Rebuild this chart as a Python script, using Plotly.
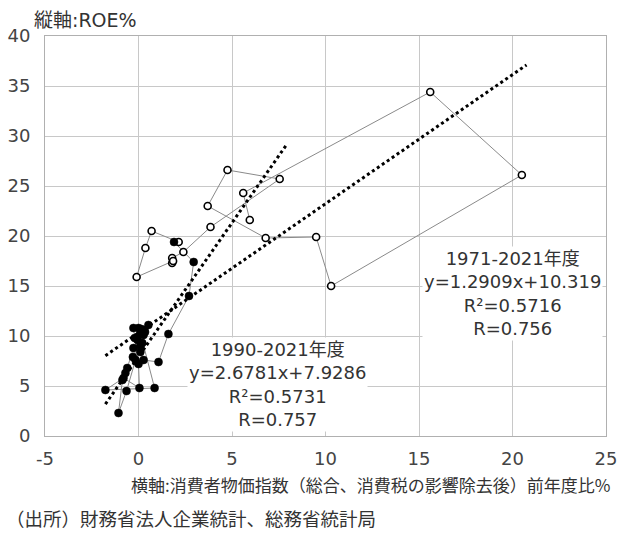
import plotly.graph_objects as go

# ---- data ----
years_a = list(range(1971, 1990))
cpi_a = [5.95, 5.6, 15.6, 20.5, 10.3, 9.5, 6.8, 3.7, 4.76, 7.55, 3.85, 2.4, 1.8, 1.8, 1.85, -0.1, 0.37, 0.7, 2.15]
roe_a = [21.6, 24.3, 34.4, 26.1, 15.0, 19.9, 19.8, 23.0, 26.6, 25.7, 20.9, 18.4, 17.8, 17.3, 17.5, 15.9, 18.8, 20.5, 19.4]

years_b = list(range(1990, 2022))
cpi_b = [1.9, 2.95, 2.7, 1.6, 1.07, 0.27, 0.1, 0.53, 0.2, -0.16,
         -0.64, -1.07, -0.86, -0.7, -0.6, -0.27, -0.05, 0.1, 0.86, -1.77,
         -0.8, 0.05, 0.0, -0.27, 0.0, 0.27, -0.2, 0.3, 0.35, 0.1, -0.3, 0.15]
roe_b = [19.4, 17.4, 14.0, 10.2, 7.4, 7.6, 8.4, 11.1, 9.3, 7.6,
         4.5, 2.3, 5.6, 6.3, 6.8, 8.8, 9.6, 10.3, 4.8, 4.6,
         5.8, 4.8, 7.2, 10.8, 10.8, 10.1, 9.8, 10.6, 10.4, 9.0, 7.9, 10.7]

trend_labels = ["1971-2021年度", "1990-2021年度"]
trend_slope = [1.2909, 2.6781]
trend_intercept = [10.319, 7.9286]
trend_r2 = [0.5716, 0.5731]
trend_r = [0.756, 0.757]
trend_x_range = [[-1.77, 20.75], [-1.77, 7.95]]
label_pos = [[20.0, 14.25], [7.45, 5.15]]

x_ticks = [-5, 0, 5, 10, 15, 20, 25]
y_ticks = [0, 5, 10, 15, 20, 25, 30, 35, 40]

LATIN = "DejaVu Sans, Noto Sans CJK JP, sans-serif"
CJK = "Noto Sans CJK JP, sans-serif"
TXT = "#333333"

fig = go.Figure()

# chronological connecting line through all years
fig.add_trace(go.Scatter(
    x=cpi_a + cpi_b, y=roe_a + roe_b, mode="lines",
    line=dict(color="#8a8a8a", width=1), hoverinfo="skip", showlegend=False))

# trend lines
for i in range(len(trend_slope)):
    xs = trend_x_range[i]
    ys = [trend_slope[i] * v + trend_intercept[i] for v in xs]
    fig.add_trace(go.Scatter(
        x=xs, y=ys, mode="lines",
        line=dict(color="black", width=3, dash="3px,3px"),
        showlegend=False, hoverinfo="skip"))

fig.add_trace(go.Scatter(
    x=cpi_a, y=roe_a, mode="markers", text=years_a,
    marker=dict(symbol="circle", size=7, color="white",
                line=dict(color="black", width=1.6)),
    showlegend=False))
fig.add_trace(go.Scatter(
    x=cpi_b, y=roe_b, mode="markers", text=years_b,
    marker=dict(symbol="circle", size=8, color="black",
                line=dict(color="black", width=0.5)),
    showlegend=False))

for i in range(len(trend_slope)):
    txt = (f"{trend_labels[i]}<br>y={trend_slope[i]}x+{trend_intercept[i]}"
           f"<br>R²={trend_r2[i]}<br>R={trend_r[i]}")
    fig.add_annotation(x=label_pos[i][0], y=label_pos[i][1], xref="x", yref="y",
                       text=txt, showarrow=False, align="center",
                       font=dict(family=LATIN, size=18, color=TXT),
                       bgcolor="white", borderpad=1)

fig.add_annotation(x=-0.023, y=1.04, xref="paper", yref="paper", xanchor="left",
                   yanchor="middle", text="縦軸:ROE%", showarrow=False,
                   font=dict(family=LATIN, size=19, color=TXT))
fig.add_annotation(x=1.011, y=-0.12, xref="paper", yref="paper", xanchor="right",
                   yanchor="middle", showarrow=False,
                   text="横軸:消費者物価指数（総合、消費税の影響除去後）前年度比%",
                   font=dict(family=CJK, size=17, color=TXT))
fig.add_annotation(x=-0.073, y=-0.205, xref="paper", yref="paper", xanchor="left",
                   yanchor="middle", showarrow=False,
                   text="（出所）財務省法人企業統計、総務省統計局",
                   font=dict(family=CJK, size=18.5, color=TXT))

axis_common = dict(showgrid=True, gridcolor="#c8c8c8", gridwidth=1,
                   showline=True, linecolor="#b0b0b0", linewidth=1, mirror=True,
                   zeroline=False, ticks="", automargin=False,
                   tickfont=dict(family=LATIN, size=18, color="#444"))
fig.update_xaxes(range=[-5, 25], tickvals=x_ticks, ticktext=[str(v) for v in x_ticks],
                 ticklabelstandoff=6, **axis_common)
fig.update_yaxes(range=[0, 40], tickvals=y_ticks, ticktext=[str(v) for v in y_ticks],
                 ticklabelstandoff=10, **axis_common)

fig.update_layout(width=627, height=533, margin=dict(l=45, r=21, t=36, b=97, autoexpand=False),
                  plot_bgcolor="white", paper_bgcolor="white")

fig.write_html("out.html", config={"displayModeBar": False},
               post_script="document.body.style.margin='0';document.body.style.overflow='hidden';")
